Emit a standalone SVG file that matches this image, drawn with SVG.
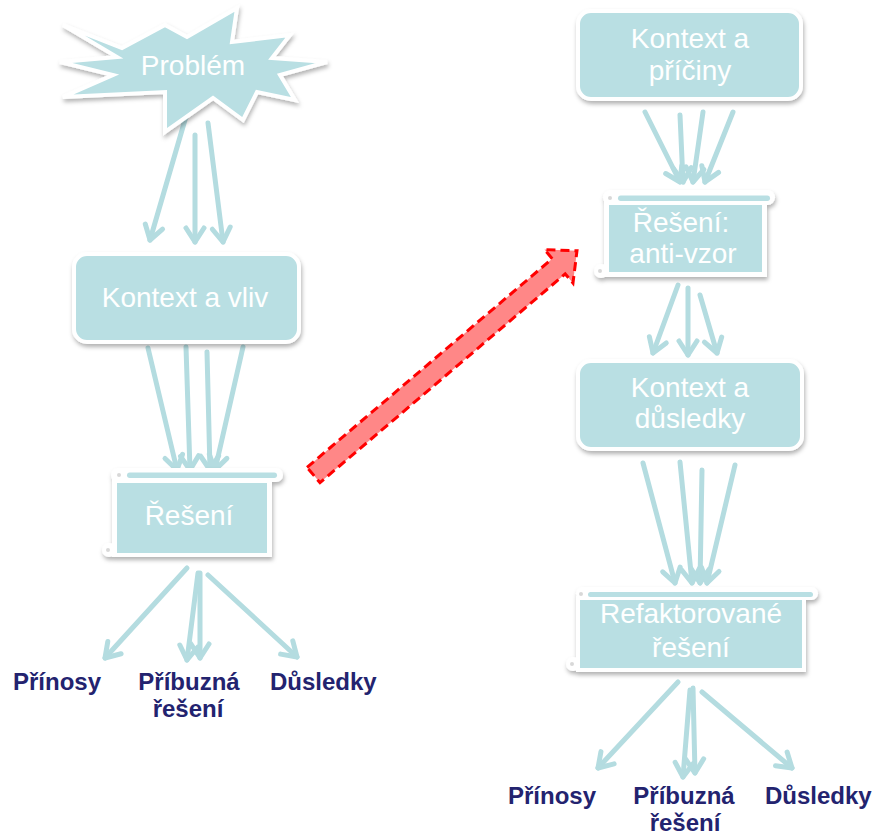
<svg xmlns="http://www.w3.org/2000/svg" width="875" height="836" viewBox="0 0 875 836">
<defs>
<style>
.box{fill:#B9DFE3;stroke:#FFFFFF;stroke-width:4;}
.fill{fill:#B9DFE3;}
.wb{fill:#FFFFFF;}
.t{font-family:"Liberation Sans",Arial,sans-serif;font-size:28px;fill:#FFFFFF;text-anchor:middle;}
.lab{font-family:"Liberation Sans",Arial,sans-serif;font-size:24px;font-weight:bold;fill:#23236F;}
.c{stroke:#B4DCE0;stroke-width:5;fill:none;stroke-linecap:round;marker-end:url(#ah);}
</style>
<filter id="sh" x="-15%" y="-15%" width="130%" height="140%">
<feDropShadow dx="1" dy="3" stdDeviation="2" flood-color="#000000" flood-opacity="0.3"/>
</filter>
<marker id="ah" markerUnits="userSpaceOnUse" markerWidth="40" markerHeight="40" viewBox="-20 -20 40 40" refX="0" refY="0" orient="auto" overflow="visible">
<path d="M-14,-9 L0,0 L-14,9" fill="none" stroke="#B4DCE0" stroke-width="5" stroke-linecap="round" stroke-linejoin="round"/>
</marker>
</defs>
<rect width="875" height="836" fill="#FFFFFF"/>
<g id="connectors">
<line class="c" x1="187" y1="113" x2="150" y2="240"/>
<line class="c" x1="195" y1="135" x2="195" y2="242"/>
<line class="c" x1="208" y1="123" x2="223" y2="242"/>
<line class="c" x1="148" y1="348" x2="177" y2="470"/>
<line class="c" x1="186" y1="347" x2="190" y2="470"/>
<line class="c" x1="207" y1="352" x2="210" y2="470"/>
<line class="c" x1="243" y1="347" x2="215" y2="470"/>
<line class="c" x1="187" y1="568" x2="105" y2="658"/>
<line class="c" x1="198" y1="573" x2="187" y2="660"/>
<line class="c" x1="200" y1="573" x2="200" y2="658"/>
<line class="c" x1="208" y1="575" x2="297" y2="657"/>
<line class="c" x1="645" y1="112" x2="680" y2="182"/>
<line class="c" x1="680" y1="115" x2="683" y2="182"/>
<line class="c" x1="703" y1="112" x2="693" y2="182"/>
<line class="c" x1="733" y1="112" x2="705" y2="182"/>
<line class="c" x1="678" y1="285" x2="653" y2="353"/>
<line class="c" x1="688" y1="288" x2="688" y2="355"/>
<line class="c" x1="700" y1="295" x2="717" y2="353"/>
<line class="c" x1="643" y1="463" x2="675" y2="583"/>
<line class="c" x1="680" y1="462" x2="692" y2="583"/>
<line class="c" x1="702" y1="470" x2="700" y2="583"/>
<line class="c" x1="735" y1="465" x2="707" y2="583"/>
<line class="c" x1="678" y1="682" x2="598" y2="768"/>
<line class="c" x1="690" y1="690" x2="683" y2="777"/>
<line class="c" x1="693" y1="688" x2="695" y2="773"/>
<line class="c" x1="702" y1="692" x2="792" y2="768"/>
<g id="red-arrow" transform="translate(313.5,475) rotate(-40.4)">
<polygon points="0,-10 322,-10 322,-22 346,0 322,22 322,10 0,10" fill="#FF8787" stroke="#FF0000" stroke-width="3" stroke-dasharray="9 5" stroke-linejoin="miter"/>
</g>
</g>
<g id="problem">
<polygon class="box" filter="url(#sh)" points="60,62 117,57 63,25 122,48 165,25 187,37 237,8 232,42 290,35 272,58 327,62 280,75 295,100 257,92 243,120 213,98 165,132 165,92 63,97 113,75"/>
<text class="t" x="193" y="75">Problém</text>
</g>
<g id="kontext-vliv">
<rect class="box" filter="url(#sh)" x="74" y="254" width="225" height="88" rx="13"/>
<text class="t" x="185" y="307">Kontext a vliv</text>
</g>
<g id="reseni">
<g filter="url(#sh)">
<rect class="wb" x="111" y="468" width="172" height="14" rx="7"/>
<rect class="wb" x="112" y="479" width="160" height="78"/>
<circle class="wb" cx="109" cy="550" r="7"/>
</g>
<rect class="fill" x="127" y="472.5" width="150" height="5.5" rx="2.75"/>
<rect class="fill" x="117" y="483" width="150" height="70"/>
<circle cx="119" cy="475" r="2" fill="#D8D8D8"/>
<circle cx="108" cy="550" r="2" fill="#D8D8D8"/>
<text class="t" x="189" y="525">Řešení</text>
</g>
<g id="labels-left">
<text class="lab" x="13" y="690">Přínosy</text>
<text class="lab" text-anchor="middle"><tspan x="189" y="690">Příbuzná</tspan><tspan x="188" y="717">řešení</tspan></text>
<text class="lab" x="270" y="690">Důsledky</text>
</g>
<g id="kontext-priciny">
<rect class="box" filter="url(#sh)" x="578" y="11" width="223" height="88" rx="13"/>
<text class="t" x="690" y="48">Kontext a</text>
<text class="t" x="690" y="80">příčiny</text>
</g>
<g id="reseni-antivzor">
<g filter="url(#sh)">
<rect class="wb" x="603" y="190" width="172" height="15" rx="7.5"/>
<rect class="wb" x="604" y="200" width="163" height="77"/>
<circle class="wb" cx="601" cy="271" r="7"/>
</g>
<rect class="fill" x="618" y="195.5" width="152" height="5.5" rx="2.75"/>
<rect class="fill" x="609" y="205" width="153" height="67"/>
<circle cx="610" cy="198" r="2" fill="#D8D8D8"/>
<circle cx="600" cy="271" r="2" fill="#D8D8D8"/>
<text class="t" x="681" y="232">Řešení:</text>
<text class="t" x="683" y="263">anti-vzor</text>
</g>
<g id="kontext-dusledky">
<rect class="box" filter="url(#sh)" x="578" y="361" width="224" height="88" rx="13"/>
<text class="t" x="690" y="397">Kontext a</text>
<text class="t" x="690" y="428">důsledky</text>
</g>
<g id="refaktorovane">
<g filter="url(#sh)">
<rect class="wb" x="576" y="587" width="242" height="13" rx="6.5"/>
<rect class="wb" x="576" y="596" width="230" height="76"/>
<circle class="wb" cx="573" cy="664" r="7"/>
</g>
<rect class="fill" x="588" y="592" width="225" height="5" rx="2.5"/>
<rect class="fill" x="580" y="600" width="222" height="68"/>
<circle cx="581" cy="594" r="2" fill="#D8D8D8"/>
<circle cx="572" cy="664" r="2" fill="#D8D8D8"/>
<text class="t" x="691" y="623">Refaktorované</text>
<text class="t" x="691" y="657">řešení</text>
</g>
<g id="labels-right">
<text class="lab" x="508" y="804">Přínosy</text>
<text class="lab" text-anchor="middle"><tspan x="684" y="804">Příbuzná</tspan><tspan x="685" y="831">řešení</tspan></text>
<text class="lab" x="765" y="804">Důsledky</text>
</g>
</svg>
